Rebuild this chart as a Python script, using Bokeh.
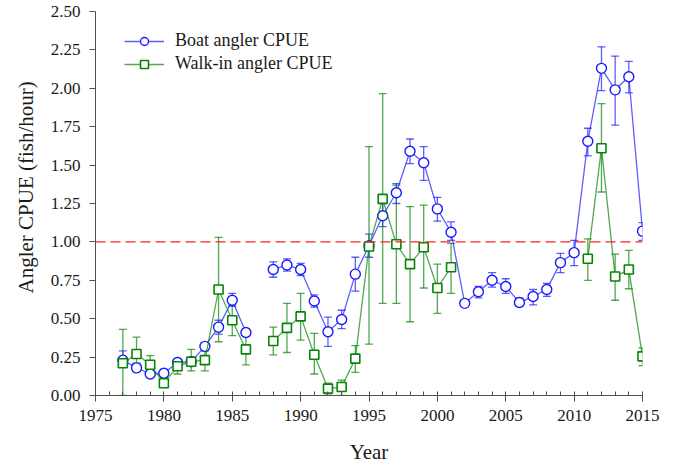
import numpy as np
from bokeh.plotting import figure
from bokeh.models import (ColumnDataSource, Whisker, TeeHead, Span, Legend, LegendItem,
                          FixedTicker, NumeralTickFormatter, Range1d, Title)
from bokeh.embed import file_html
from bokeh.resources import INLINE

nan = float("nan")

years = list(range(1977, 2016))

boat_cpue = [0.23, 0.18, 0.14, 0.145, 0.215, 0.22, 0.32, 0.445, 0.62, 0.41, nan,
             0.82, 0.85, 0.82, 0.615, 0.415, 0.495, 0.79, 0.975, 1.17, 1.32, 1.59, 1.515,
             1.215, 1.063, 0.60, 0.675, 0.75, 0.71, 0.605, 0.645, 0.69, 0.865, 0.93,
             1.655, 2.13, 1.99, 2.075, 1.07]
boat_low = [0.19, 0.16, 0.12, 0.12, 0.19, 0.19, 0.30, 0.40, 0.58, 0.385, nan,
            0.77, 0.81, 0.78, 0.575, 0.32, 0.435, 0.68, 0.90, 1.10, 1.25, 1.51, 1.40,
            1.135, 1.01, 0.58, 0.635, 0.705, 0.665, 0.58, 0.59, 0.645, 0.80, 0.845,
            1.56, 1.985, 1.76, 1.97, 1.01]
boat_high = [0.29, 0.21, 0.16, 0.17, 0.24, 0.25, 0.34, 0.49, 0.665, 0.435, nan,
             0.87, 0.89, 0.86, 0.655, 0.51, 0.555, 0.90, 1.05, 1.25, 1.38, 1.67, 1.62,
             1.29, 1.13, 0.62, 0.71, 0.80, 0.76, 0.635, 0.69, 0.73, 0.925, 1.01,
             1.74, 2.27, 2.21, 2.175, 1.125]

walk_cpue = [0.21, 0.27, 0.20, 0.08, 0.19, 0.22, 0.23, 0.69, 0.49, 0.30, nan,
             0.355, 0.44, 0.515, 0.265, 0.045, 0.055, 0.24, 0.97, 1.28, 0.985, 0.855, 0.965,
             0.70, 0.835, nan, nan, nan, nan, nan, nan, nan, nan, nan,
             0.89, 1.61, 0.775, 0.82, 0.255]
walk_low = [0.0, 0.16, 0.15, 0.06, 0.14, 0.16, 0.16, 0.35, 0.39, 0.20, nan,
            0.265, 0.28, 0.36, 0.14, 0.01, 0.0, 0.15, 0.335, 0.60, 0.60, 0.48, 0.70,
            0.535, 0.665, nan, nan, nan, nan, nan, nan, nan, nan, nan,
            0.75, 1.325, 0.62, 0.695, 0.195]
walk_high = [0.43, 0.38, 0.26, 0.10, 0.23, 0.30, 0.29, 1.03, 0.59, 0.405, nan,
             0.445, 0.60, 0.665, 0.405, 0.08, 0.10, 0.325, 1.62, 1.965, 1.37, 1.23, 1.24,
             0.855, 0.99, nan, nan, nan, nan, nan, nan, nan, nan, nan,
             1.02, 1.90, 0.92, 0.945, 0.31]

x_major_ticks = [1975, 1980, 1985, 1990, 1995, 2000, 2005, 2010, 2015]
y_major_ticks = [0.0, 0.25, 0.5, 0.75, 1.0, 1.25, 1.5, 1.75, 2.0, 2.25, 2.5]
reference_level = 1.0

FONT = "Liberation Serif"
BLUE = "#1a1aff"
GREEN = "#078407"

p = figure(frame_width=547, frame_height=384, output_backend="svg", toolbar_location=None,
           x_range=Range1d(1975, 2015), y_range=Range1d(0, 2.5),
           min_border_left=95, min_border_right=25, min_border_top=11, min_border_bottom=74)
p.outline_line_color = None
p.grid.visible = False
p.background_fill_color = "white"
p.border_fill_color = "white"

# reference line
p.add_layout(Span(location=reference_level, dimension="width", line_color="#ff2020",
                  line_dash="10 5", line_width=1.2))


def series(vals, lows, highs, color, marker):
    yrs = np.array(years, dtype=float)
    v = np.array(vals, dtype=float)
    lo = np.array(lows, dtype=float)
    hi = np.array(highs, dtype=float)
    ok = ~np.isnan(v)
    err_src = ColumnDataSource(dict(x=yrs[ok], lo=lo[ok], hi=hi[ok]))
    w = Whisker(source=err_src, base="x", lower="lo", upper="hi", dimension="height",
                line_color=color, line_alpha=0.7, line_width=1.3,
                upper_head=TeeHead(size=8, line_color=color, line_alpha=0.7, line_width=1.3),
                lower_head=TeeHead(size=8, line_color=color, line_alpha=0.7, line_width=1.3))
    p.add_layout(w)
    lr = p.line(yrs, v, line_color=color, line_alpha=0.7, line_width=1.3)
    src = ColumnDataSource(dict(x=yrs[ok], y=v[ok]))
    if marker == "circle":
        mr = p.scatter("x", "y", source=src, marker="circle", size=10, fill_color="white",
                       line_color=color, line_width=1.4)
    else:
        mr = p.scatter("x", "y", source=src, marker="square", size=9, fill_color="white",
                       line_color=color, line_width=1.6)
    return lr, mr


b_line, b_mark = series(boat_cpue, boat_low, boat_high, BLUE, "circle")
w_line, w_mark = series(walk_cpue, walk_low, walk_high, GREEN, "square")

legend = Legend(items=[LegendItem(label="Boat angler CPUE", renderers=[b_line, b_mark]),
                       LegendItem(label="Walk-in angler CPUE", renderers=[w_line, w_mark])],
                location=(29, 321), padding=0, margin=0, spacing=2,
                glyph_width=40, glyph_height=20, label_height=20, label_standoff=11,
                label_text_font=FONT, label_text_font_size="18px", label_text_color="#1a1a1a",
                border_line_color=None, background_fill_alpha=0)
p.add_layout(legend)

# axes
for ax in (p.xaxis[0], p.yaxis[0]):
    ax.axis_line_color = "#505050"
    ax.major_tick_line_color = "#505050"
    ax.minor_tick_line_color = "#505050"
    ax.major_label_text_font = FONT
    ax.major_label_text_font_size = "17px"
    ax.major_label_text_color = "#1a1a1a"
    ax.axis_label_text_font = FONT
    ax.axis_label_text_font_style = "normal"
    ax.axis_label_text_font_size = "21px"
    ax.axis_label_text_color = "#1a1a1a"

p.xaxis.ticker = FixedTicker(ticks=x_major_ticks, minor_ticks=list(range(1975, 2016)))
p.xaxis.major_tick_out = 6
p.xaxis.major_tick_in = 0
p.xaxis.minor_tick_in = 4
p.xaxis.minor_tick_out = 0
p.xaxis.major_label_standoff = 8
p.xaxis.axis_label = "Year"
p.xaxis.axis_label_standoff = 16

p.yaxis.ticker = FixedTicker(ticks=y_major_ticks, minor_ticks=[])
p.yaxis.formatter = NumeralTickFormatter(format="0.00")
p.yaxis.major_tick_out = 6
p.yaxis.major_tick_in = 0
p.yaxis.minor_tick_in = 0
p.yaxis.minor_tick_out = 0
p.yaxis.major_label_standoff = 9

ylab = Title(text="Angler CPUE (fish/hour)", align="left", offset=102,
             text_font=FONT, text_font_size="21px", text_font_style="normal",
             text_color="#1a1a1a", standoff=20)
p.add_layout(ylab, "left")

open("out.html", "w").write(file_html(p, INLINE))
